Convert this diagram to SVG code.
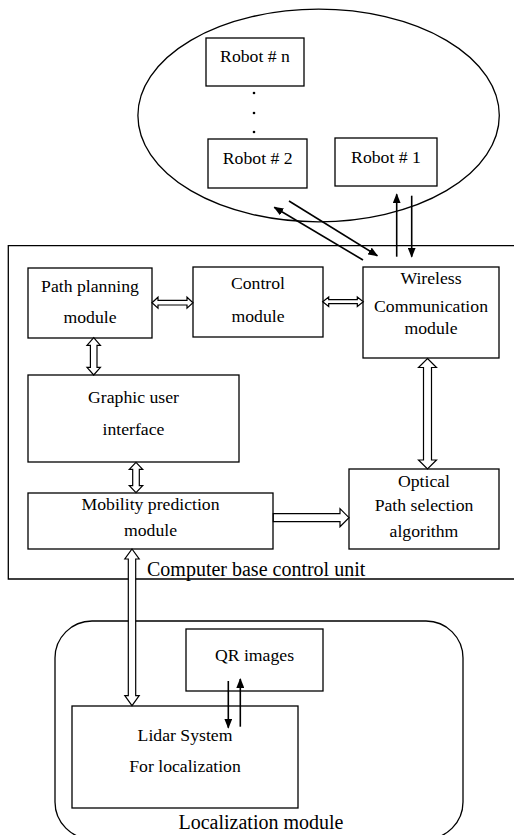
<svg xmlns="http://www.w3.org/2000/svg" width="514" height="835" viewBox="0 0 514 835">
  <style>
    .box{fill:none;stroke:#000;stroke-width:1.3}
    text{font-family:'Liberation Serif','Times New Roman','DejaVu Serif',serif;font-size:17.7px;text-anchor:middle;fill:#000}
    .big{font-size:20px}
    .wire{stroke:#000;stroke-width:1.6;fill:none;marker-end:url(#ah)}
    .hollow{fill:#fff;stroke:#000;stroke-width:1.2;stroke-linejoin:miter}
  </style>
  <defs>
    <marker id="ah" markerUnits="userSpaceOnUse" markerWidth="10" markerHeight="8" refX="9" refY="4" orient="auto" viewBox="0 0 10 8">
      <path d="M0,0 L10,4 L0,8 z" fill="#000"/>
    </marker>
  </defs>
  <rect width="514" height="835" fill="#fff"/>

  <!-- robot swarm -->
  <g id="robots">
    <ellipse cx="318.6" cy="115.5" rx="180.7" ry="106.3" class="box"/>
  </g>
  <g id="robot-n">
    <rect x="206" y="38" width="98" height="48" class="box"/>
    <text x="255" y="62.3" font-family="Liberation Serif, serif">Robot # n</text>
  </g>
  <g id="robot-dots" fill="#000">
    <circle cx="254" cy="93" r="1.3"/>
    <circle cx="254" cy="113" r="1.3"/>
    <circle cx="254" cy="132" r="1.3"/>
  </g>
  <g id="robot-2">
    <rect x="208" y="139" width="99" height="49" class="box"/>
    <text x="257.7" y="164">Robot # 2</text>
  </g>
  <g id="robot-1">
    <rect x="335" y="138" width="102" height="48" class="box"/>
    <text x="386" y="163">Robot # 1</text>
  </g>

  <!-- computer base control unit -->
  <g id="control-unit">
    <path d="M520,245.7 H8.3 V579 H520" class="box"/>
    <text x="147" y="576" class="big" style="text-anchor:start">Computer base control unit</text>
  </g>
  <g id="path-planning">
    <rect x="28" y="268" width="124" height="70" class="box"/>
    <text x="90" y="292.3">Path planning</text>
    <text x="90" y="322.7">module</text>
  </g>
  <g id="control">
    <rect x="193" y="267" width="130" height="70" class="box"/>
    <text x="258" y="289.3">Control</text>
    <text x="258" y="322">module</text>
  </g>
  <g id="wireless">
    <rect x="363" y="267" width="136" height="91" class="box"/>
    <text x="431" y="284.3">Wireless</text>
    <text x="431" y="311.7">Communication</text>
    <text x="431" y="334.3">module</text>
  </g>
  <g id="gui">
    <rect x="28" y="375" width="211" height="87" class="box"/>
    <text x="133.5" y="403.3">Graphic user</text>
    <text x="133.5" y="435">interface</text>
  </g>
  <g id="mobility">
    <rect x="28" y="493" width="245" height="56" class="box"/>
    <text x="150.5" y="510">Mobility prediction</text>
    <text x="150.5" y="535.7">module</text>
  </g>
  <g id="optical">
    <rect x="349" y="469" width="150" height="80" class="box"/>
    <text x="424" y="486.7">Optical</text>
    <text x="424" y="511">Path selection</text>
    <text x="424" y="536.7">algorithm</text>
  </g>

  <!-- localization module -->
  <g id="localization">
    <rect x="55" y="621" width="408" height="218" rx="37" ry="37" class="box"/>
    <text x="261" y="829" class="big">Localization module</text>
  </g>
  <g id="qr">
    <rect x="186" y="629" width="137" height="62" class="box"/>
    <text x="254.5" y="661">QR images</text>
  </g>
  <g id="lidar">
    <rect x="72" y="706" width="226" height="102" class="box"/>
    <text x="185" y="740.7">Lidar System</text>
    <text x="185" y="772.3">For localization</text>
  </g>

  <!-- connectors -->
  <g id="connectors">
    <line x1="363" y1="260" x2="274.3" y2="207.3" class="wire"/>
    <line x1="289" y1="201" x2="377.3" y2="255.7" class="wire"/>
    <line x1="396.7" y1="256.7" x2="396.7" y2="194.3" class="wire"/>
    <line x1="411.7" y1="195.7" x2="411.7" y2="256.7" class="wire"/>
    <line x1="228.3" y1="681" x2="228.3" y2="727.7" class="wire"/>
    <line x1="240.3" y1="726.7" x2="240.3" y2="679" class="wire"/>

    <polygon class="hollow" points="152,302.7 158,297.2 158,300.4 187,300.4 187,297.2 193,302.7 187,308.2 187,305 158,305 158,308.2"/>
    <polygon class="hollow" points="322.7,301.7 328.7,297 328.7,299.7 357.3,299.7 357.3,297 363.3,301.7 357.3,306.4 357.3,303.7 328.7,303.7 328.7,306.4"/>
    <polygon class="hollow" points="93.7,337.7 100.4,345.4 97,345.4 97,367.3 100.4,367.3 93.7,375 87,367.3 90.4,367.3 90.4,345.4 87,345.4"/>
    <polygon class="hollow" points="136,462.3 142.7,469.3 139.3,469.3 139.3,485.7 142.7,485.7 136,492.7 129.3,485.7 132.7,485.7 132.7,469.3 129.3,469.3"/>
    <polygon class="hollow" points="427.5,358.5 436.5,367.5 431.5,367.5 431.5,460 436.5,460 427.5,469 418.5,460 423.5,460 423.5,367.5 418.5,367.5"/>
    <polygon class="hollow" points="273.3,513.7 340,513.7 340,508.7 349,517.7 340,526.7 340,521.7 273.3,521.7"/>
    <polygon class="hollow" points="132,549 139.2,559 135.7,559 135.7,695.7 139.2,695.7 132,705.7 124.8,695.7 128.3,695.7 128.3,559 124.8,559"/>
  </g>
</svg>
